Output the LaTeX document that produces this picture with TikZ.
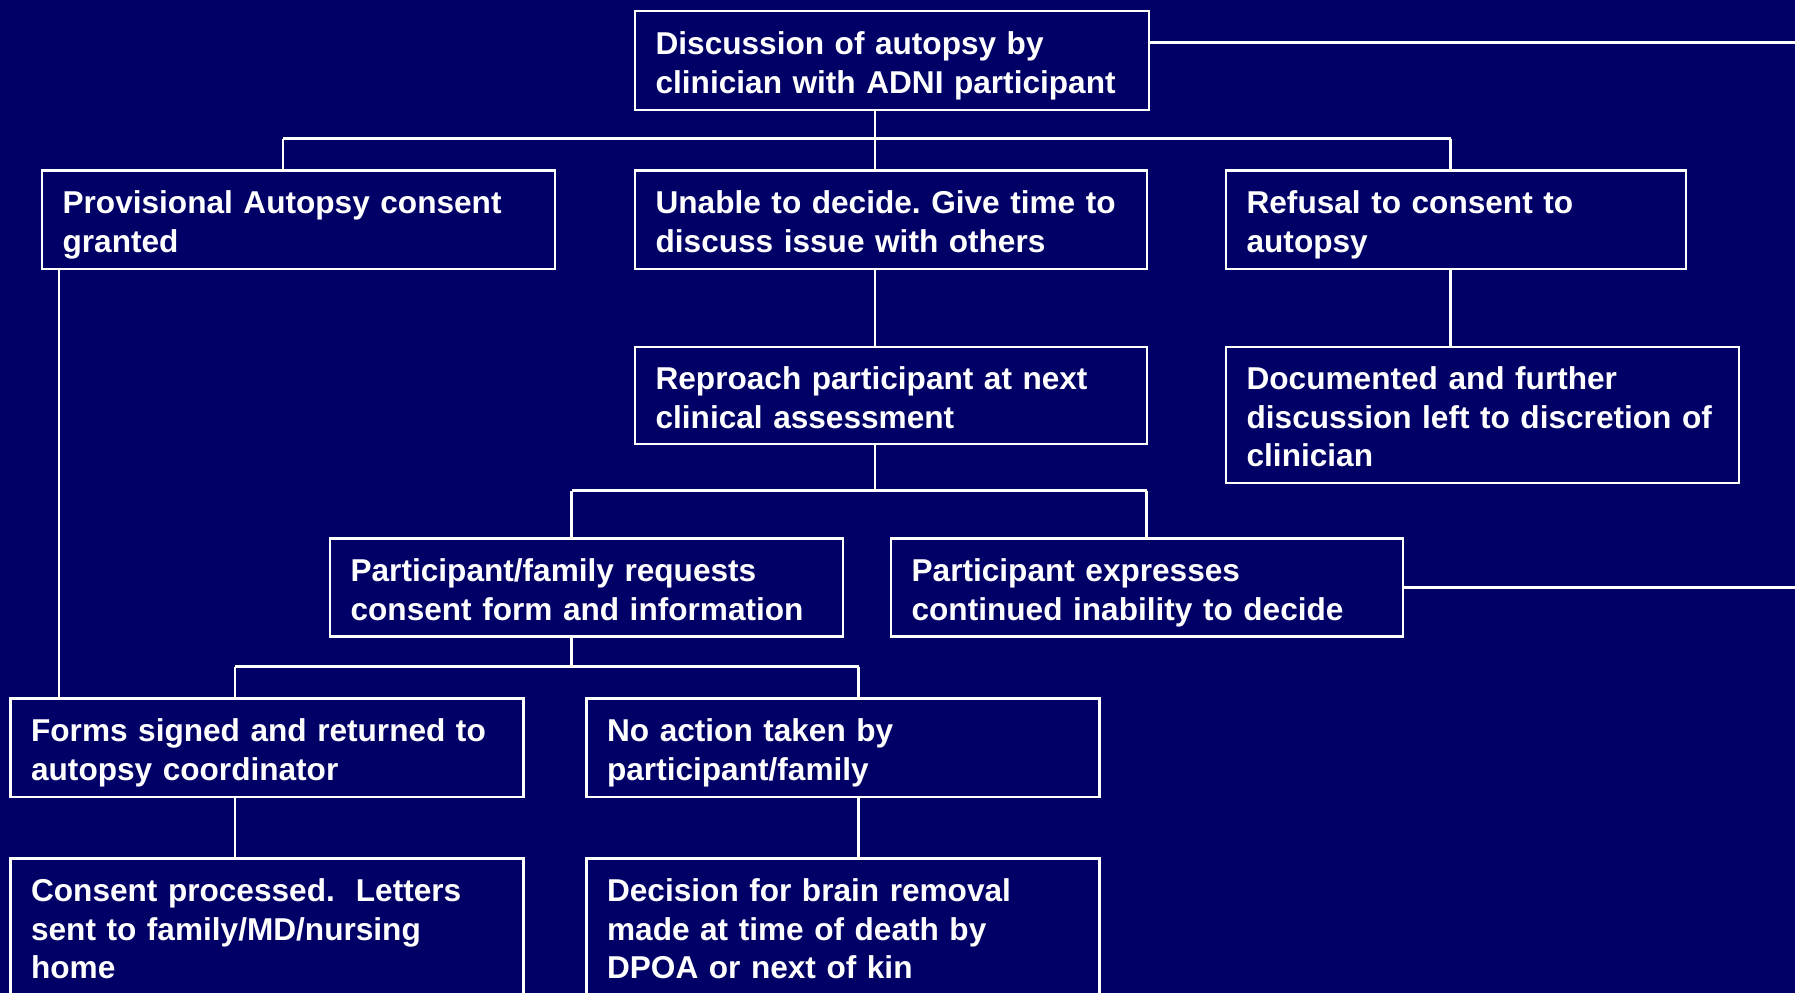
\documentclass[tikz,border=0pt]{standalone}
\usepackage{fontspec}
\setmainfont{Liberation Sans}
\definecolor{bg}{RGB}{0,0,102}
\newcommand{\topstrut}{\rule{0pt}{\dimexpr0.905em+2.4pt\relax}}
\newcommand{\botstrut}{\rule[-0.212em]{0pt}{0pt}}
\tikzset{
  box/.style={draw=white, line width=1.05pt, text=white, align=left, inner xsep=10.3pt, inner ysep=0pt,
    font=\fontsize{15.8}{19.25}\selectfont\bfseries\frenchspacing},
  link/.style={draw=white, line width=1.1pt}
}
\begin{document}
\begin{tikzpicture}[x=0.5pt,y=-0.5pt]
\fill[bg] (0,0) rectangle (1795,993);
\clip (0,0) rectangle (1795,993);
\useasboundingbox (0,0) rectangle (1795,993);

\node[box, minimum width=257pt, minimum height=49.5pt, text width=236.4pt] (top) at (892,60.5)
  {\topstrut Discussion of autopsy by\\clinician with ADNI participant\botstrut};
\node[box, minimum width=256.5pt, minimum height=49.25pt, text width=235.9pt] (prov) at (298.5,219.75)
  {\topstrut Provisional Autopsy consent\\granted\botstrut};
\node[box, minimum width=256pt, minimum height=49.25pt, text width=235.4pt] (unable) at (891,219.75)
  {\topstrut Unable to decide. Give time to\\discuss issue with others\botstrut};
\node[box, minimum width=230pt, minimum height=49.25pt, text width=209.4pt] (refusal) at (1456,219.75)
  {\topstrut Refusal to consent to\\autopsy\botstrut};
\node[box, minimum width=256pt, minimum height=48.5pt, text width=235.4pt] (reproach) at (891,395.5)
  {\topstrut Reproach participant at next\\clinical assessment\botstrut};
\node[box, minimum width=256.5pt, minimum height=68pt, text width=235.9pt] (documented) at (1482.5,415)
  {\topstrut Documented and further\\discussion left to discretion of\\clinician\botstrut};
\node[box, minimum width=256.5pt, minimum height=49pt, text width=235.9pt] (pfam) at (586.5,587.5)
  {\topstrut Participant/family requests\\consent form and information\botstrut};
\node[box, minimum width=256pt, minimum height=49pt, text width=235.4pt] (express) at (1147,587.5)
  {\topstrut Participant expresses\\continued inability to decide\botstrut};
\node[box, minimum width=256.5pt, minimum height=49.25pt, text width=235.9pt] (forms) at (267,747.75)
  {\topstrut Forms signed and returned to\\autopsy coordinator\botstrut};
\node[box, minimum width=256.5pt, minimum height=49.25pt, text width=235.9pt] (noaction) at (843,747.75)
  {\topstrut No action taken by\\participant/family\botstrut};
\node[box, minimum width=256.5pt, minimum height=68.25pt, text width=235.9pt] (consent) at (267,926.75)
  {\topstrut Consent processed.\ \ Letters\\sent to family/MD/nursing\\home\botstrut};
\node[box, minimum width=256.5pt, minimum height=68.25pt, text width=235.9pt] (decision) at (843,926.75)
  {\topstrut Decision for brain removal\\made at time of death by\\DPOA or next of kin\botstrut};

% free ends at right edge
\coordinate (rt1) at (1795,42.5);
\coordinate (rt2) at (1795,587.5);
\draw[link] (top.east |- rt1) -- (rt1);
\draw[link] (express.east) -- (rt2);

% first level bus
\coordinate (j1) at (875,138.5);
\coordinate (j1l) at (283,138.5);
\coordinate (j1r) at (1450.5,138.5);
\draw[link] (top.south -| j1) -- (j1);
\draw[link] (j1l) -- (j1r);
\draw[link] (j1l) -- (j1l |- prov.north);
\draw[link] (j1) -- (j1 |- unable.north);
\draw[link] (j1r) -- (j1r |- refusal.north);

\draw[link] (unable.south -| j1) -- (reproach.north -| j1);
\draw[link] (refusal.south -| j1r) -- (documented.north -| j1r);

% second level bus
\coordinate (j2) at (875,490.5);
\coordinate (j2l) at (571.5,490.5);
\coordinate (j2r) at (1146.5,490.5);
\draw[link] (reproach.south -| j2) -- (j2);
\draw[link] (j2l) -- (j2r);
\draw[link] (j2l) -- (j2l |- pfam.north);
\draw[link] (j2r) -- (j2r |- express.north);

% provisional to forms
\coordinate (pv) at (59,0);
\draw[link] (prov.south -| pv) -- (forms.north -| pv);

% third level bus
\coordinate (j3) at (571.5,666.5);
\coordinate (j3l) at (235,666.5);
\coordinate (j3r) at (858.5,666.5);
\draw[link] (pfam.south -| j3) -- (j3);
\draw[link] (j3l) -- (j3r);
\draw[link] (j3l) -- (j3l |- forms.north);
\draw[link] (j3r) -- (j3r |- noaction.north);

\draw[link] (forms.south -| j3l) -- (consent.north -| j3l);
\draw[link] (noaction.south -| j3r) -- (decision.north -| j3r);
\end{tikzpicture}
\end{document}
